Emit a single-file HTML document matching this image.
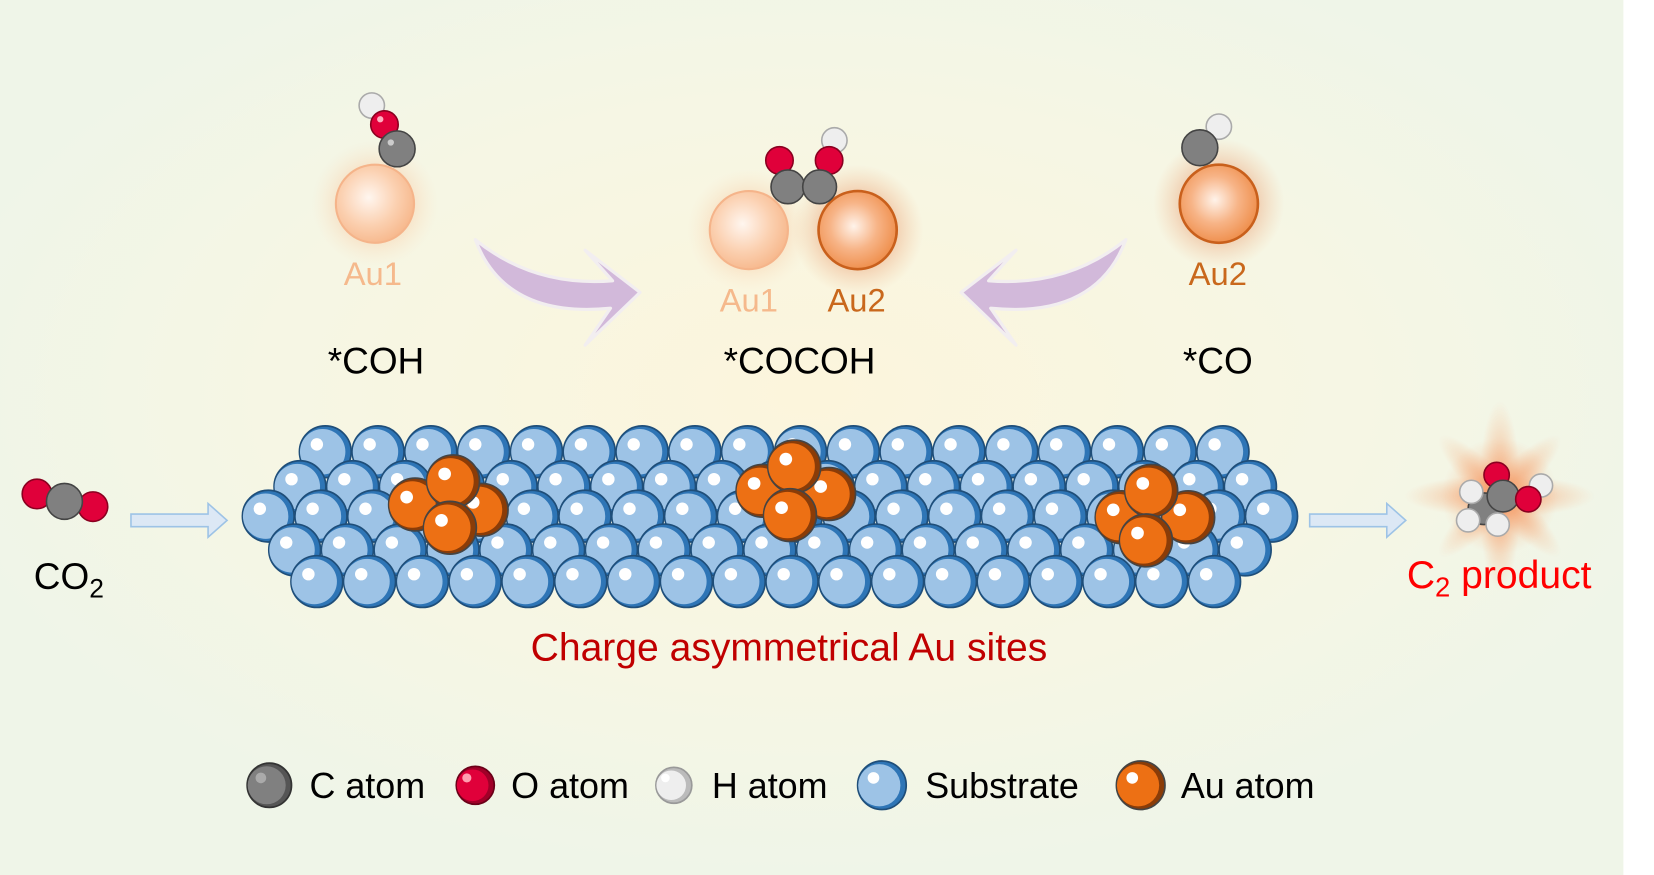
<!DOCTYPE html>
<html><head><meta charset="utf-8">
<style>
html,body{margin:0;padding:0;width:1654px;height:875px;overflow:hidden;background:#fff}
svg{display:block}
text{font-family:"Liberation Sans",Arial,sans-serif}
</style></head><body>
<svg id="s" width="1654" height="875" viewBox="0 0 1566 829" preserveAspectRatio="none" xmlns="http://www.w3.org/2000/svg">
<defs>
<radialGradient id="bgg" cx="0.5" cy="0.45" r="0.55">
<stop offset="0" stop-color="#fcf5dc"/><stop offset="0.6" stop-color="#f6f6e4"/><stop offset="1" stop-color="#eff5e8"/>
</radialGradient>
<radialGradient id="glow" cx="0.5" cy="0.5" r="0.5">
<stop offset="0" stop-color="#f7a36a" stop-opacity="0.8"/><stop offset="0.6" stop-color="#f9c49a" stop-opacity="0.35"/><stop offset="1" stop-color="#fbe0c0" stop-opacity="0"/>
</radialGradient>
<radialGradient id="glow2" cx="0.5" cy="0.5" r="0.5">
<stop offset="0" stop-color="#e07030" stop-opacity="0.7"/><stop offset="0.6" stop-color="#e89060" stop-opacity="0.35"/><stop offset="1" stop-color="#f0b080" stop-opacity="0"/>
</radialGradient>
<radialGradient id="au1" cx="0.42" cy="0.42" r="0.6">
<stop offset="0" stop-color="#fff6ef"/><stop offset="0.6" stop-color="#fbd0b0"/><stop offset="1" stop-color="#f7b98e"/>
</radialGradient>
<radialGradient id="au2" cx="0.45" cy="0.45" r="0.6">
<stop offset="0" stop-color="#fff3ea"/><stop offset="0.5" stop-color="#f7b487"/><stop offset="1" stop-color="#ee8a45"/>
</radialGradient>
<radialGradient id="star" cx="0.5" cy="0.5" r="0.5">
<stop offset="0" stop-color="#f58a50" stop-opacity="0.9"/><stop offset="1" stop-color="#f8b080" stop-opacity="0"/>
</radialGradient>
</defs>
<rect width="1566" height="829" fill="#fff"/>
<rect width="1537" height="829" fill="url(#bgg)"/>

<circle cx="355" cy="193" r="60" fill="url(#glow)"/>
<circle cx="709" cy="218" r="58" fill="url(#glow)"/>
<circle cx="812" cy="218" r="62" fill="url(#glow2)"/>
<circle cx="1154" cy="193" r="62" fill="url(#glow2)"/>

<circle cx="355" cy="193" r="37" fill="url(#au1)" stroke="#f5b48a" stroke-width="2"/>
<circle cx="352" cy="100" r="12" fill="#eeeeee" stroke="#aaa" stroke-width="1.5"/>
<circle cx="364" cy="118" r="13" fill="#e0003a" stroke="#8a0020" stroke-width="1.5"/>
<circle cx="376" cy="141" r="17" fill="#808080" stroke="#444" stroke-width="1.5"/>
<circle cx="370" cy="135" r="3" fill="#ccc"/><circle cx="360" cy="113" r="3" fill="#ffb0c0"/>

<circle cx="709" cy="218" r="37" fill="url(#au1)" stroke="#f5b48a" stroke-width="2"/>
<circle cx="812" cy="218" r="37" fill="url(#au2)" stroke="#c9601c" stroke-width="2.5"/>
<circle cx="790" cy="133" r="12" fill="#eeeeee" stroke="#aaa" stroke-width="1.5"/>
<circle cx="738" cy="152" r="13" fill="#e0003a" stroke="#8a0020" stroke-width="1.5"/>
<circle cx="785" cy="152" r="13" fill="#e0003a" stroke="#8a0020" stroke-width="1.5"/>
<circle cx="746" cy="177" r="16" fill="#808080" stroke="#444" stroke-width="1.5"/>
<circle cx="776" cy="177" r="16" fill="#808080" stroke="#444" stroke-width="1.5"/>

<circle cx="1154" cy="193" r="37" fill="url(#au2)" stroke="#c9601c" stroke-width="2.5"/>
<circle cx="1154" cy="120" r="12" fill="#eeeeee" stroke="#aaa" stroke-width="1.5"/>
<circle cx="1136" cy="140" r="17" fill="#808080" stroke="#444" stroke-width="1.5"/>

<path d="M450 227 Q505 272 580 266 L554 237 L606 277 L554 327 L578 292 Q478 302 450 227 Z" fill="#d2b9da" stroke="#f2eef0" stroke-width="3" stroke-linejoin="round"/>
<path d="M1066 227 Q1011 272 936 266 L962 237 L910 277 L962 327 L938 292 Q1038 302 1066 227 Z" fill="#d2b9da" stroke="#f2eef0" stroke-width="3" stroke-linejoin="round"/>

<g font-size="31" text-anchor="middle">
<text x="353" y="270" fill="#f5b98c">Au1</text>
<text x="709" y="295" fill="#f5b98c">Au1</text>
<text x="811" y="295" fill="#c9681c">Au2</text>
<text x="1153" y="270" fill="#c9681c">Au2</text>
</g>
<g font-size="35" text-anchor="middle" fill="#000">
<text x="356" y="354">*COH</text>
<text x="757" y="354">*COCOH</text>
<text x="1153" y="354">*CO</text>
</g>

<g id="sub"></g>

<circle cx="35" cy="468" r="14" fill="#e0003a" stroke="#8a0020" stroke-width="1.5"/>
<circle cx="88" cy="480" r="14" fill="#e0003a" stroke="#8a0020" stroke-width="1.5"/>
<circle cx="61" cy="475" r="17" fill="#808080" stroke="#444" stroke-width="1.5"/>
<text x="32" y="558" font-size="35" fill="#000">CO<tspan font-size="25" dy="8">2</tspan></text>

<path d="M124 487 H197 V477 L215 493 L197 509 V499 H124 Z" fill="#dce8f5" stroke="#9dc3e6" stroke-width="1.5"/>
<path d="M1240 487 H1313 V477 L1331 493 L1313 509 V499 H1240 Z" fill="#dce8f5" stroke="#9dc3e6" stroke-width="1.5"/>

<g opacity="0.85">
<ellipse cx="1420" cy="470" rx="90" ry="20" fill="url(#star)"/>
<ellipse cx="1420" cy="470" rx="20" ry="90" fill="url(#star)"/>
<ellipse cx="1420" cy="470" rx="80" ry="18" fill="url(#star)" transform="rotate(45 1420 470)"/>
<ellipse cx="1420" cy="470" rx="80" ry="18" fill="url(#star)" transform="rotate(-45 1420 470)"/>
<circle cx="1420" cy="470" r="55" fill="url(#star)"/>
</g>
<circle cx="1417" cy="450" r="12" fill="#e0003a" stroke="#8a0020" stroke-width="1.5"/>
<circle cx="1459" cy="460" r="11" fill="#eeeeee" stroke="#aaa" stroke-width="1.5"/>
<circle cx="1405" cy="482" r="15" fill="#808080" stroke="#444" stroke-width="1.5"/>
<circle cx="1423" cy="470" r="15" fill="#808080" stroke="#444" stroke-width="1.5"/>
<circle cx="1447" cy="473" r="12" fill="#e0003a" stroke="#8a0020" stroke-width="1.5"/>
<circle cx="1393" cy="466" r="11" fill="#eeeeee" stroke="#aaa" stroke-width="1.5"/>
<circle cx="1390" cy="493" r="11" fill="#eeeeee" stroke="#aaa" stroke-width="1.5"/>
<circle cx="1418" cy="497" r="11" fill="#eeeeee" stroke="#aaa" stroke-width="1.5"/>
<text x="1332" y="557" font-size="37" fill="#ff0000">C<tspan font-size="26" dy="8">2</tspan><tspan dy="-8"> product</tspan></text>

<text x="747" y="626" font-size="37" fill="#c00000" text-anchor="middle">Charge asymmetrical Au sites</text>

<g id="leg"></g>
<g font-size="34" fill="#000">
<text x="293" y="756">C atom</text>
<text x="484" y="756">O atom</text>
<text x="674" y="756">H atom</text>
<text x="876" y="756">Substrate</text>
<text x="1118" y="756">Au atom</text>
</g>
</svg>
<script>
var NS="http://www.w3.org/2000/svg";
function el(p,t,a){var e=document.createElementNS(NS,t);for(var k in a)e.setAttribute(k,a[k]);p.appendChild(e);return e;}
function ball(p,x,y,r,fill,rim,stroke,hl){
 el(p,"circle",{cx:x,cy:y,r:r,fill:rim,stroke:stroke,"stroke-width":1.6});
 el(p,"circle",{cx:x-2.5,cy:y,r:r-3,fill:fill});
 el(p,"circle",{cx:x-8,cy:y-7,r:r*0.24,fill:hl});
}
var sub=document.getElementById("sub");
var rows=[[428,308,18],[461,284,19],[489,254,20],[521,279,19],[551,300,18]];
rows.forEach(function(r){for(var i=0;i<r[2];i++){ball(sub,r[1]+i*50,r[0],24.5,"#9dc3e6","#2e75b6","#1f4e79","#fff");}});
var au=[[[429,456],[393,478],[456,483],[426,500]],[[752,442],[722,465],[785,468],[748,488]],[[1090,465],[1062,490],[1125,490],[1085,512]]];
var order=[1,2,0,3];
au.forEach(function(c){order.forEach(function(i){ball(sub,c[i][0],c[i][1],25,"#ed7014","#8a3c08","#444","#fff");});});
var leg=document.getElementById("leg");
ball(leg,255,744,21,"#808080","#555","#333","#aaa");
ball(leg,450,744,18,"#e0003a","#a00028","#6a0018","#ff9fb0");
ball(leg,638,744,17,"#eeeeee","#bbb","#999","#fff");
ball(leg,835,744,23,"#9dc3e6","#2e75b6","#1f4e79","#fff");
ball(leg,1080,744,23,"#ed7014","#8a3c08","#444","#fff");
</script>
</body></html>
